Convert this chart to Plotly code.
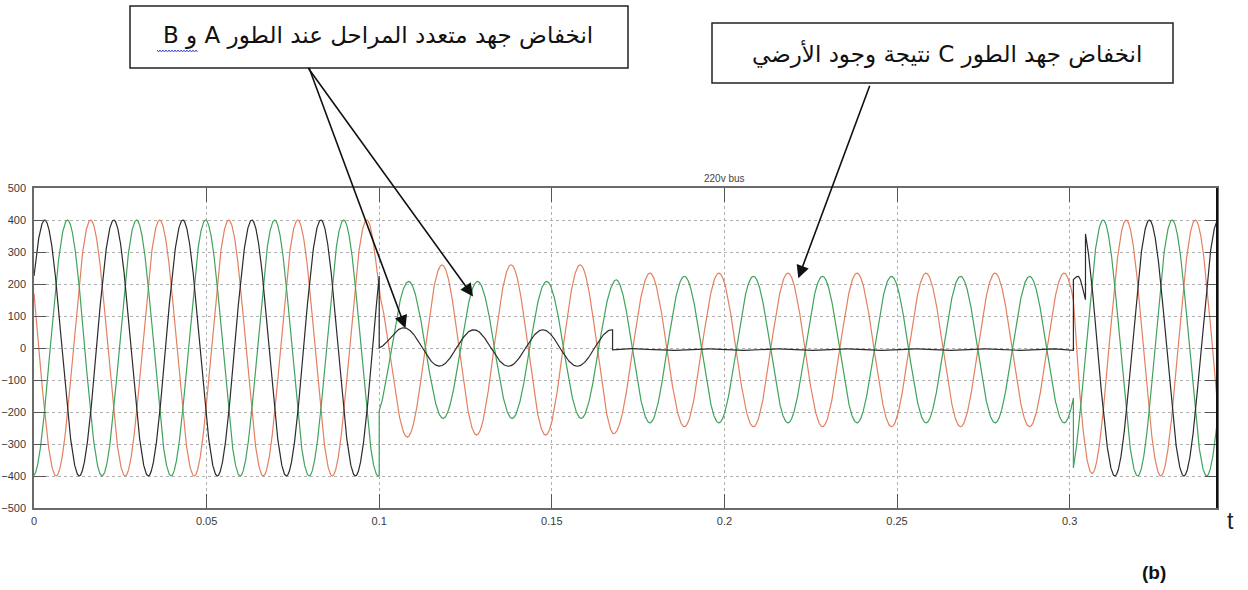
import numpy as np
import plotly.graph_objects as go

# ---------------------------------------------------------------
# 220 V bus, three phase voltages during a fault (simulation trace)
# ---------------------------------------------------------------
F_HZ = 50.0
T_END = 0.3427
DT = 2e-5

# switching instants (s)
T_FAULT = 0.1        # fault applied
T_SETTLE = 0.1676    # phase A collapses to ground
T_CLEAR = 0.3011     # fault cleared
T_RESYNC = 0.3046    # phase A back on the healthy wave

# segment specs per phase:
# (t_start, t_end, peak V, crest time s, dc offset V, start value V or "cont" or None, decay s)
PHASE_A = [
    (0.0,      T_FAULT,  400, 0.0031,  0, None,   None),
    (T_FAULT,  T_SETTLE,  57, 0.0074,  0, 0.0,    0.004),
    (T_SETTLE, T_CLEAR,    3, 0.0134, -5, None,   None),
    (T_RESYNC, T_END,    400, 0.0031,  0, None,   None),
]
PHASE_B = [
    (0.0,      T_FAULT,  400, 0.0097,  0, None,   None),
    (T_FAULT,  T_SETTLE, 214, 0.0085, -6, None,   None),
    (T_SETTLE, T_CLEAR,  229, 0.0084, -5, "cont", 0.002),
    (T_CLEAR,  T_END,    400, 0.0097,  0, -375,   0.0015),
]
PHASE_C = [
    (0.0,      T_FAULT,  400, 0.0164,  0, None,   None),
    (T_FAULT,  T_SETTLE, 266, 0.0182, -6, "cont", 0.004),
    (T_SETTLE, T_CLEAR,  240, 0.0184, -6, "cont", 0.002),
    (T_CLEAR,  T_END,    400, 0.0164,  0, "cont", 0.002),
]
# phase A recovery spike right after clearing (s, V)
A_CLEAR_T = [0.3011, 0.3016, 0.3021, 0.3026, 0.3031, 0.3036, 0.3041, 0.3046]
A_CLEAR_V = [214, 219, 223, 224, 214, 195, 172, 151]

X_TICKS = [0, 0.05, 0.1, 0.15, 0.2, 0.25, 0.3]
X_LABELS = ["0", "0.05", "0.1", "0.15", "0.2", "0.25", "0.3"]
Y_TICKS = list(range(-500, 501, 100))

W = 2 * np.pi * F_HZ


def build(segments, spike=None):
    """Join the sinusoidal segments of one phase; an optional sampled
    spike is inserted where a gap is left between two segments."""
    ts, vs = [], []
    last = None
    for t0, t1, amp, crest, off, start, tau in segments:
        if spike is not None and ts and ts[-1][-1] < t0 - 1e-9:
            ts.append(np.asarray(spike[0], dtype=float))
            vs.append(np.asarray(spike[1], dtype=float))
            last = vs[-1][-1]
        t = np.append(np.arange(t0, t1, DT), t1)
        v = amp * np.cos(W * (t - crest)) + off
        if start is not None:
            v0 = amp * np.cos(W * (t0 - crest)) + off
            target = last if start == "cont" else start
            v = v + (target - v0) * np.exp(-(t - t0) / tau)
        ts.append(t)
        vs.append(v)
        last = v[-1]
    return np.concatenate(ts), np.concatenate(vs)


ta, va = build(PHASE_A, spike=(A_CLEAR_T, A_CLEAR_V))
tb, vb = build(PHASE_B)
tc, vc = build(PHASE_C)

fig = go.Figure()
fig.add_trace(go.Scatter(x=tc, y=vc, mode="lines", name="Vc",
                         line=dict(color="#e3805f", width=1.2)))
fig.add_trace(go.Scatter(x=tb, y=vb, mode="lines", name="Vb",
                         line=dict(color="#3fa35c", width=1.2)))
fig.add_trace(go.Scatter(x=ta, y=va, mode="lines", name="Va",
                         line=dict(color="#2b2b2b", width=1.2)))

# plot box in page pixels
PL, PR, PT, PB = 34, 1217, 188, 508


def px(x):
    return (x - PL) / (PR - PL)


def py(y):
    return (PB - y) / (PB - PT)


tick_font = dict(family="Liberation Sans, Arial, sans-serif", size=11, color="#3a3a3a")
axis_common = dict(showline=True, linecolor="#6a6a6a", linewidth=1.5, mirror="ticks",
                   ticks="inside", tickcolor="#555", tickfont=tick_font,
                   showgrid=True, gridcolor="#b0b0b0", griddash="dot", gridwidth=1,
                   zeroline=False, automargin=False)

fig.update_xaxes(range=[0, T_END], tickvals=X_TICKS, ticktext=X_LABELS, ticklen=14,
                 ticklabelstandoff=2, **axis_common)
fig.update_yaxes(range=[-500, 500], tickvals=Y_TICKS, ticklen=12,
                 ticklabelstandoff=4, **axis_common)

arabic_font = dict(family="DejaVu Sans, Noto Sans, sans-serif", size=23, color="#111")

# wavy spell-check underline under the last word of the first callout
wx = np.arange(157, 199, 1.5)
wy = 51 + np.where(np.arange(len(wx)) % 2 == 0, -1.0, 1.0)
squiggle = "M " + " L ".join(f"{px(a):.5f},{py(b):.5f}" for a, b in zip(wx, wy))

shapes = [
    # right edge of the axes box
    dict(type="line", xref="paper", yref="paper", x0=1, x1=1, y0=0, y1=1,
         line=dict(color="#111", width=2)),
    # callout boxes
    dict(type="rect", xref="paper", yref="paper", x0=px(130), x1=px(628), y0=py(6), y1=py(68),
         line=dict(color="#222", width=1.5), fillcolor="white", layer="above"),
    dict(type="rect", xref="paper", yref="paper", x0=px(712), x1=px(1173), y0=py(23), y1=py(83),
         line=dict(color="#222", width=1.5), fillcolor="white", layer="above"),
    dict(type="path", xref="paper", yref="paper", path=squiggle,
         line=dict(color="#4050d0", width=1), layer="above"),
]

annotations = [
    dict(text="\u202bانخفاض جهد متعدد المراحل عند الطور A و B\u202c", xref="paper", yref="paper",
         x=px(378), y=py(35), showarrow=False, font=arabic_font, xanchor="center", yanchor="middle"),
    dict(text="\u202bانخفاض جهد الطور C نتيجة وجود الأرضي\u202c", xref="paper", yref="paper",
         x=px(947), y=py(54), showarrow=False, font=arabic_font, xanchor="center", yanchor="middle"),
    dict(text="220v bus", xref="x", yref="paper", x=0.2, y=py(178), showarrow=False,
         xanchor="center", yanchor="middle",
         font=dict(family="Liberation Sans, Arial, sans-serif", size=10, color="#444")),
    dict(text="t", xref="paper", yref="paper", x=px(1230), y=py(521), showarrow=False,
         xanchor="center", yanchor="middle",
         font=dict(family="Liberation Sans, Arial, sans-serif", size=23, color="#222")),
    dict(text="<b>(b)</b>", xref="paper", yref="paper", x=px(1154), y=py(572), showarrow=False,
         xanchor="center", yanchor="middle",
         font=dict(family="Liberation Sans, Arial, sans-serif", size=19, color="#111")),
]

# callout arrows: head on the waveform, tail under the box
arrow_style = dict(showarrow=True, arrowhead=2, arrowsize=1.6, arrowwidth=1.6,
                   arrowcolor="#111", axref="pixel", ayref="pixel", text="")
annotations += [
    dict(x=0.1076, y=62, xref="x", yref="y", ax=-97, ay=-262, **arrow_style),
    dict(x=0.1272, y=161, xref="x", yref="y", ax=-166, ay=-230, **arrow_style),
    dict(x=0.2214, y=218, xref="x", yref="y", ax=72, ay=-194, **arrow_style),
]

fig.update_layout(
    width=1248, height=590,
    margin=dict(l=PL, r=1248 - PR, t=PT, b=590 - PB, pad=0, autoexpand=False),
    paper_bgcolor="white", plot_bgcolor="white",
    showlegend=False,
    shapes=shapes, annotations=annotations,
)

fig.write_html("out.html")
